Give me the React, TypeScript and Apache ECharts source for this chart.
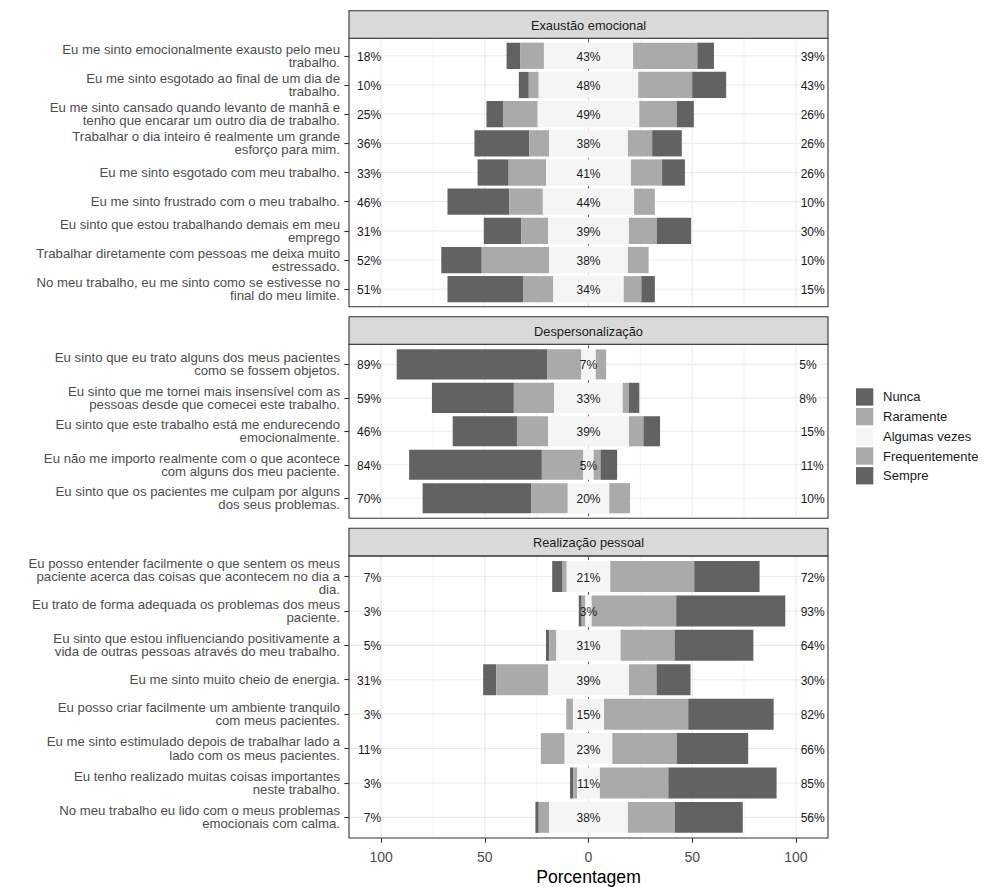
import React, { useEffect, useRef } from "react";
import * as echarts from "echarts";

// ---------- data ----------
const LEVELS = ["Nunca", "Raramente", "Algumas vezes", "Frequentemente", "Sempre"];
const PANEL_NAMES = ["Exaustão emocional", "Despersonalização", "Realização pessoal"];

const exaustaoItems = [
  "Eu me sinto emocionalmente exausto pelo meu\ntrabalho.",
  "Eu me sinto esgotado ao final de um dia de\ntrabalho.",
  "Eu me sinto cansado quando levanto de manhã e\ntenho que encarar um outro dia de trabalho.",
  "Trabalhar o dia inteiro é realmente um grande\nesforço para mim.",
  "Eu me sinto esgotado com meu trabalho.",
  "Eu me sinto frustrado com o meu trabalho.",
  "Eu sinto que estou trabalhando demais em meu\nemprego",
  "Trabalhar diretamente com pessoas me deixa muito\nestressado.",
  "No meu trabalho, eu me sinto como se estivesse no\nfinal do meu limite.",
];
// [Nunca, Raramente, Algumas vezes, Frequentemente, Sempre]
const exaustaoValues = [
  [6.5, 11.5, 43, 31, 8],
  [4.8, 4.8, 48, 26, 16.4],
  [8.2, 16.5, 49, 18, 8.3],
  [26.5, 9.5, 38, 11.7, 14.3],
  [15, 18, 41, 15, 11],
  [29.8, 16.2, 44, 10, 0],
  [18, 13, 39, 13.5, 16.5],
  [19.5, 32.5, 38, 10, 0],
  [36.4, 14.6, 34, 8.5, 6.5],
];
const exaustaoLow = [18, 10, 25, 36, 33, 46, 31, 52, 51];
const exaustaoMid = [43, 48, 49, 38, 41, 44, 39, 38, 34];
const exaustaoHigh = [39, 43, 26, 26, 26, 10, 30, 10, 15];

const despersItems = [
  "Eu sinto que eu trato alguns dos meus pacientes\ncomo se fossem objetos.",
  "Eu sinto que me tornei mais insensível com as\npessoas desde que comecei este trabalho.",
  "Eu sinto que este trabalho está me endurecendo\nemocionalmente.",
  "Eu não me importo realmente com o que acontece\ncom alguns dos meu paciente.",
  "Eu sinto que os pacientes me culpam por alguns\ndos seus problemas.",
];
const despersValues = [
  [72.5, 16.5, 7, 5, 0],
  [39.5, 19.5, 33, 3, 5],
  [31, 15, 39, 7, 8],
  [64, 20, 5, 3.3, 8],
  [52.3, 17.7, 20, 10, 0],
];
const despersLow = [89, 59, 46, 84, 70];
const despersMid = [7, 33, 39, 5, 20];
const despersHigh = [5, 8, 15, 11, 10];

const realizItems = [
  "Eu posso entender facilmente o que sentem os meus\npaciente acerca das coisas que acontecem no dia a\ndia.",
  "Eu trato de forma adequada os problemas dos meus\npaciente.",
  "Eu sinto que estou influenciando positivamente a\nvida de outras pessoas através do meu trabalho.",
  "Eu me sinto muito cheio de energia.",
  "Eu posso criar facilmente um ambiente tranquilo\ncom meus pacientes.",
  "Eu me sinto estimulado depois de trabalhar lado a\nlado com os meus pacientes.",
  "Eu tenho realizado muitas coisas importantes\nneste trabalho.",
  "No meu trabalho eu lido com o meus problemas\nemocionais com calma.",
];
const realizValues = [
  [5, 2, 21, 40.5, 31.5],
  [1.4, 1.8, 3, 40.8, 52.6],
  [1.6, 3.4, 31, 26, 38],
  [6.3, 25, 39, 13.3, 16.4],
  [0, 3.2, 15, 40.6, 41.2],
  [0, 11.5, 23, 31, 34.5],
  [1.6, 1.8, 11, 33, 52.2],
  [1.6, 5, 38, 22.6, 32.8],
];
const realizLow = [7, 3, 5, 31, 3, 11, 3, 7];
const realizMid = [21, 3, 31, 39, 15, 23, 11, 38];
const realizHigh = [72, 93, 64, 30, 82, 66, 85, 56];

const X_TICKS = [-100, -50, 0, 50, 100];
const GRID_MINOR = [-75, -25, 25, 75];

// ---------- style / layout ----------
const FONT = "'Liberation Sans', Arial, Helvetica, sans-serif";
const COLORS = ["#626262", "#aaaaaa", "#f5f5f5", "#aaaaaa", "#626262"];
const PANEL_LEFT = 349;
const PANEL_WIDTH = 479;
const STRIP_H = 27.6;
const LAYOUT = [
  { stripTop: 10.7, top: 38.3, height: 268.4 },
  { stripTop: 316.7, top: 344.3, height: 174 },
  { stripTop: 528.3, top: 555.9, height: 287.4 },
];

const PANELS = [
  { items: exaustaoItems, values: exaustaoValues, low: exaustaoLow, mid: exaustaoMid, high: exaustaoHigh },
  { items: despersItems, values: despersValues, low: despersLow, mid: despersMid, high: despersHigh },
  { items: realizItems, values: realizValues, low: realizLow, mid: realizMid, high: realizHigh },
];

function segments(v: number[]) {
  const [n, r, a, f, s] = v;
  const h = a / 2;
  return [
    [-(n + r + h), -(r + h)],
    [-(r + h), -h],
    [-h, h],
    [h, h + f],
    [h + f, h + f + s],
  ];
}

function buildOption() {
  const grid: any[] = [];
  const xAxis: any[] = [];
  const yAxis: any[] = [];
  const series: any[] = [];
  const graphic: any[] = [];

  PANELS.forEach((panel, p) => {
    const lay = LAYOUT[p];
    const n = panel.items.length;
    const rows = panel.items.map((_, i) => i);
    const isLast = p === PANELS.length - 1;

    grid.push({
      left: PANEL_LEFT,
      top: lay.top,
      width: PANEL_WIDTH,
      height: lay.height,
      show: true,
      backgroundColor: "#ffffff",
      borderColor: "#333333",
      borderWidth: 1.1,
    });

    xAxis.push({
      type: "value",
      gridIndex: p,
      position: "bottom",
      min: -115.5,
      max: 115.5,
      axisLine: { show: false, onZero: false },
      splitLine: { show: false },
      axisTick: {
        show: isLast,
        length: 4.7,
        customValues: X_TICKS,
        lineStyle: { color: "#333333", width: 1.1 },
      },
      axisLabel: {
        show: isLast,
        customValues: X_TICKS,
        formatter: (v: number) => String(Math.abs(v)),
        color: "#4d4d4d",
        fontSize: 14,
        fontFamily: FONT,
        margin: 12,
      },
      name: isLast ? "Porcentagem" : "",
      nameLocation: "middle",
      nameGap: 30,
      nameTextStyle: { fontSize: 17.6, color: "#000000", fontFamily: FONT },
    });

    yAxis.push({
      type: "value",
      gridIndex: p,
      position: "left",
      inverse: true,
      min: -0.6,
      max: n - 0.4,
      axisLine: { show: false, onZero: false },
      splitLine: { show: false },
      axisTick: {
        show: true,
        length: 4.7,
        customValues: rows,
        lineStyle: { color: "#333333", width: 1.1 },
      },
      axisLabel: {
        show: true,
        customValues: rows,
        formatter: (v: number) => panel.items[Math.round(v)] ?? "",
        color: "#4d4d4d",
        fontSize: 13.2,
        lineHeight: 13.2,
        fontFamily: FONT,
        margin: 9,
        align: "right",
      },
    });

    // vertical gridlines (major / minor)
    const vData: number[][] = [
      ...X_TICKS.map((x) => [x, 0, 0]),
      ...GRID_MINOR.map((x) => [x, 0, 1]),
    ];
    series.push({
      type: "custom",
      name: "vgrid" + p,
      xAxisIndex: p,
      yAxisIndex: p,
      silent: true,
      z: 1,
      data: vData,
      renderItem: (params: any, api: any) => {
        const cs = params.coordSys;
        const x = api.coord([api.value(0), 0])[0];
        return {
          type: "line",
          shape: { x1: x, y1: cs.y + 1, x2: x, y2: cs.y + cs.height - 1 },
          style: { stroke: "#ebebeb", lineWidth: api.value(2) === 0 ? 1.1 : 0.6 },
        };
      },
    });
    // horizontal gridlines at each item
    series.push({
      type: "custom",
      name: "hgrid" + p,
      xAxisIndex: p,
      yAxisIndex: p,
      silent: true,
      z: 1,
      data: rows.map((i) => [0, i]),
      renderItem: (params: any, api: any) => {
        const cs = params.coordSys;
        const y = api.coord([0, api.value(1)])[1];
        return {
          type: "line",
          shape: { x1: cs.x + 1, y1: y, x2: cs.x + cs.width - 1, y2: y },
          style: { stroke: "#ebebeb", lineWidth: 1.1 },
        };
      },
    });
    // dashed zero line
    series.push({
      type: "custom",
      name: "zero" + p,
      xAxisIndex: p,
      yAxisIndex: p,
      silent: true,
      z: 1,
      data: [[0, 0]],
      renderItem: (params: any, api: any) => {
        const cs = params.coordSys;
        const x = api.coord([0, 0])[0];
        return {
          type: "line",
          shape: { x1: x, y1: cs.y + 1, x2: x, y2: cs.y + cs.height - 1 },
          style: { stroke: "#555555", lineWidth: 1, lineDash: [3, 4] },
        };
      },
    });

    // bars
    LEVELS.forEach((lvl, k) => {
      const data = panel.values.map((v, i) => {
        const seg = segments(v)[k];
        return [seg[0], seg[1], i];
      });
      series.push({
        type: "custom",
        name: lvl,
        xAxisIndex: p,
        yAxisIndex: p,
        z: 2,
        silent: true,
        itemStyle: { color: COLORS[k] },
        encode: { x: [0, 1], y: 2 },
        data,
        renderItem: (params: any, api: any) => {
          const y = api.value(2);
          const a = api.coord([api.value(0), y]);
          const b = api.coord([api.value(1), y]);
          const h = api.size([0, 0.9])[1];
          const w = Math.abs(b[0] - a[0]);
          return {
            type: "rect",
            shape: { x: Math.min(a[0], b[0]), y: a[1] - h / 2, width: w, height: h },
            style: { fill: COLORS[k] },
            invisible: w <= 0,
          };
        },
      });
    });

    // percentage labels
    const labelData: number[][] = [];
    rows.forEach((i) => {
      labelData.push([-100, i, 0]);
      labelData.push([0, i, 1]);
      labelData.push([100, i, 2]);
    });
    series.push({
      type: "custom",
      name: "labels" + p,
      xAxisIndex: p,
      yAxisIndex: p,
      z: 5,
      silent: true,
      data: labelData,
      renderItem: (params: any, api: any) => {
        const i = api.value(1);
        const kind = api.value(2);
        const pt = api.coord([api.value(0), i]);
        const arr = kind === 0 ? panel.low : kind === 1 ? panel.mid : panel.high;
        const text = arr[i] + "%";
        const align = kind === 0 ? "right" : kind === 1 ? "center" : "left";
        const approxW = (text.length - 1) * 6.67 + 10.67;
        const x = kind === 2 ? pt[0] + 0.2 * approxW : pt[0];
        return {
          type: "text",
          x,
          y: pt[1] + 1,
          style: {
            text,
            fill: "#1a1a1a",
            font: "12px " + FONT,
            align,
            verticalAlign: "middle",
            textAlign: align,
            textVerticalAlign: "middle",
          },
        };
      },
    });

    // strip
    graphic.push({
      type: "rect",
      shape: { x: PANEL_LEFT, y: lay.stripTop, width: PANEL_WIDTH, height: STRIP_H },
      style: { fill: "#d9d9d9", stroke: "#333333", lineWidth: 1.1 },
      z: 10,
    });
    graphic.push({
      type: "text",
      x: PANEL_LEFT + PANEL_WIDTH / 2,
      y: lay.stripTop + STRIP_H / 2 + 0.5,
      style: {
        text: PANEL_NAMES[p],
        fill: "#1a1a1a",
        font: "12.8px " + FONT,
        align: "center",
        verticalAlign: "middle",
        textAlign: "center",
        textVerticalAlign: "middle",
      },
      z: 11,
    });
  });

  return {
    animation: false,
    backgroundColor: "#ffffff",
    textStyle: { fontFamily: FONT },
    grid,
    xAxis,
    yAxis,
    series,
    graphic,
    legend: {
      data: LEVELS.map((name) => ({ name, icon: "rect" })),
      orient: "vertical",
      left: 856,
      top: 388.3,
      padding: 0,
      itemWidth: 17.3,
      itemHeight: 17.3,
      itemGap: 2.4,
      selectedMode: false,
      itemStyle: { borderWidth: 0 },
      textStyle: { fontSize: 13, color: "#1a1a1a", fontFamily: FONT, padding: [0, 0, 0, 4.7] },
    },
  };
}

export default function App() {
  const ref = useRef<HTMLDivElement>(null);
  useEffect(() => {
    if (!ref.current) return;
    const chart = echarts.init(ref.current, undefined, { renderer: "svg" });
    chart.setOption(buildOption() as any);
    return () => chart.dispose();
  }, []);
  return (
    <div
      ref={ref}
      style={{ position: "absolute", left: 0, top: 0, width: 987, height: 887, background: "#fff" }}
    />
  );
}
